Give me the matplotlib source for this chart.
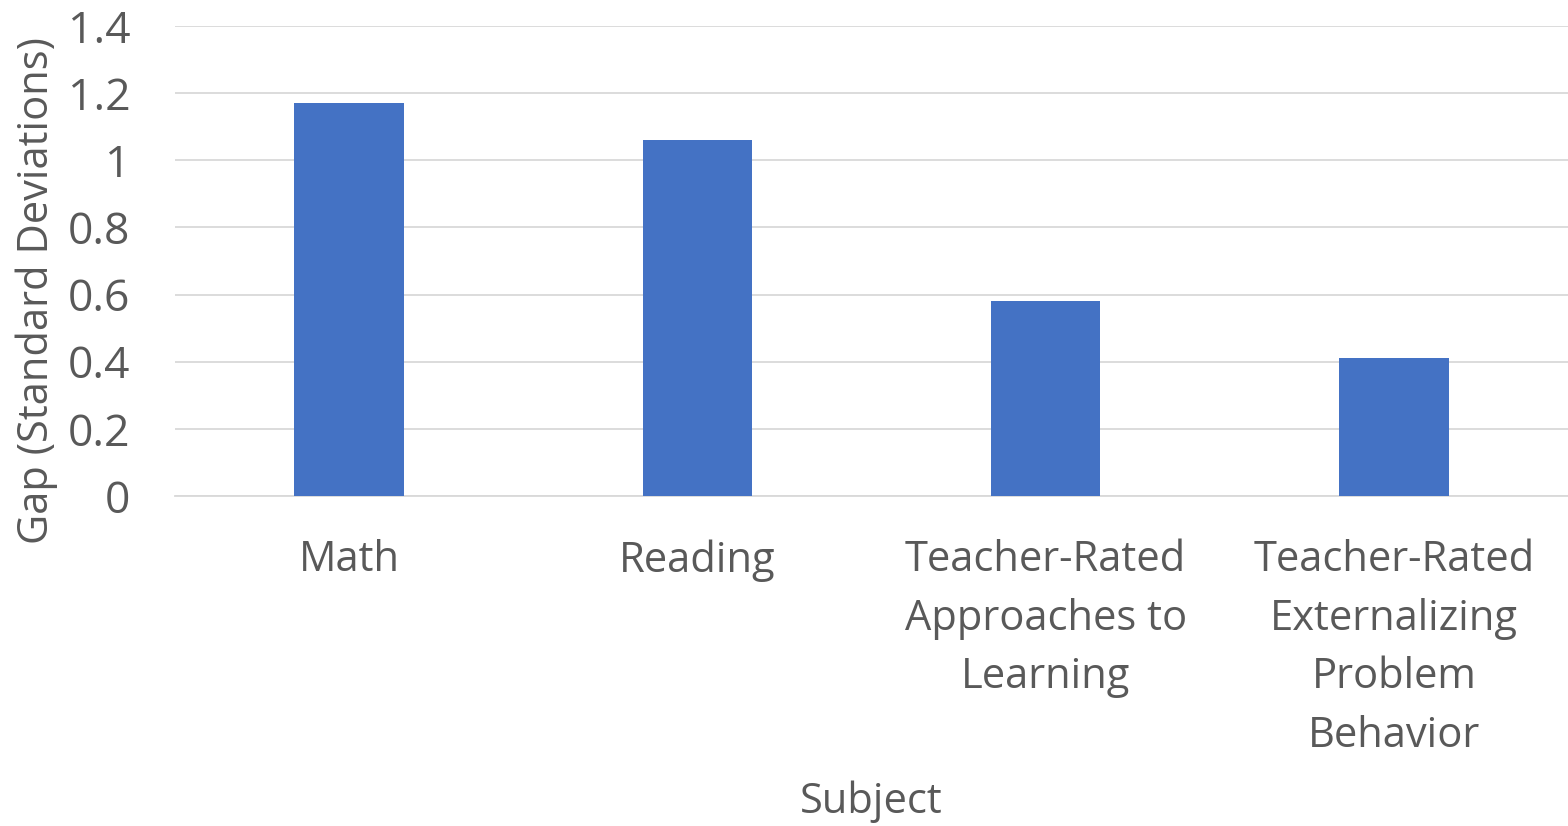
import matplotlib.pyplot as plt
import numpy as np

subjects = ['Math', 'Reading', 'Teacher-Rated\nApproaches to\nLearning',
            'Teacher-Rated\nExternalizing\nProblem\nBehavior']
gap = [1.17, 1.06, 0.58, 0.41]
yticks = [0, 0.2, 0.4, 0.6, 0.8, 1, 1.2, 1.4]
ytick_labels = ['0', '0.2', '0.4', '0.6', '0.8', '1', '1.2', '1.4']

plt.rcParams['font.family'] = ['Open Sans', 'DejaVu Sans']
txt = '#595959'

fig = plt.figure(figsize=(15.68, 8.26), dpi=100)
ax = fig.add_axes([0.1116, 0.3995, 0.8884, 0.569])

x = np.arange(len(subjects))
ax.bar(x, gap, width=0.315, color='#4472C4', zorder=3)

ax.set_xlim(-0.5, len(subjects) - 0.5)
ax.set_ylim(0, 1.4)
ax.set_yticks(yticks)
ax.set_yticklabels(ytick_labels)
ax.set_xticks(x)
ax.set_xticklabels(subjects, linespacing=1.52)
ax.yaxis.grid(True, color='#D9D9D9', linewidth=1.3, zorder=0)
for s in ['top', 'right', 'left']:
    ax.spines[s].set_visible(False)
ax.spines['bottom'].set_color('#D9D9D9')
ax.spines['bottom'].set_linewidth(1.3)
ax.tick_params(axis='x', length=0, labelsize=30, colors=txt, pad=31)
ax.tick_params(axis='y', length=0, labelsize=32, colors=txt, pad=32)

ax.set_ylabel('Gap (Standard Deviations)', fontsize=30, color=txt)
ax.yaxis.set_label_coords(-0.084, 0.438)
ax.set_xlabel('Subject', fontsize=30, color=txt, labelpad=17)

fig.savefig('out.png', dpi=100)
